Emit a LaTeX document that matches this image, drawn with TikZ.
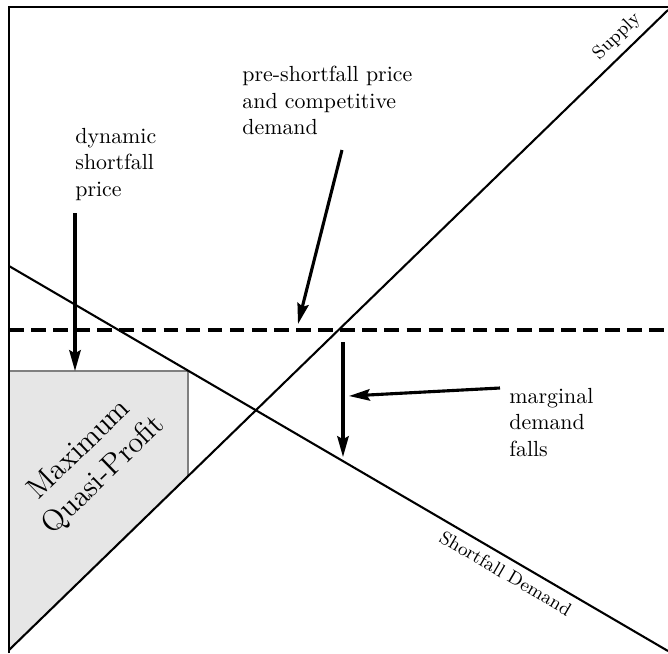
\documentclass[tikz,border=0pt]{standalone}
\usepackage{tikz}
\usetikzlibrary{arrows.meta, positioning, calc}
\definecolor{area1}{RGB}{230,230,230}
\definecolor{edge1}{RGB}{128,128,128}

\begin{document}
\begin{tikzpicture}[
    x=0.48pt, y=-0.48pt,
    axisline/.style={line width=1.1pt, black},
    curveline/.style={line width=1pt, black},
    priceline/.style={line width=1.6pt, black, dash pattern=on 7pt off 3.6pt},
    myarrow/.style={-{Stealth[length=10pt,width=5.5pt,inset=1.5pt]}, line width=1.5pt, black},
    boxline/.style={line width=1pt, draw=edge1},
    textlabel/.style={align=left, anchor=north west, inner sep=0pt,
        font=\fontsize{10.5}{12.6}\selectfont}
]
\useasboundingbox (0,0) rectangle (668,653);

% profit area under the dynamic price
\fill[area1] (9,371) -- (188,371) -- (188,476) -- (9,650) -- cycle;
\draw[boxline] (9,371) -- (188,371) -- (188,476);
\node[rotate=44, align=center, font=\fontsize{14.4}{17}\selectfont] (profit) at (92,463) {Maximum\\Quasi-Profit};

% axes
\draw[axisline] (9,653) -- (9,7) -- (668,7);

% supply and demand
\draw[curveline] (9,650) -- (668,10)
    node[pos=0.94, above, sloped, font=\small] (supply) {Supply};
\draw[curveline] (9,266) -- (668,651)
    node[pos=0.765, below, sloped, font=\small] (demand) {Shortfall Demand};

% pre-shortfall price
\draw[priceline] (9,330) -- (668,330);

% labels
\node[textlabel] (dyn) at (75,128) {dynamic\\shortfall\\price};
\node[textlabel] (pre) at (242,66) {pre-shortfall price\\and competitive\\demand};
\node[textlabel] (marg) at (509,388) {marginal\\demand\\falls};

\coordinate (dynfrom) at (75,213);
\coordinate (dynto) at (75,371);
\coordinate (prefrom) at (342,150);
\coordinate (preto) at (298,324);
\coordinate (fallfrom) at (343,342);
\coordinate (fallto) at (343,457);
\coordinate (margfrom) at (500,388);
\coordinate (margto) at (349,396);

\draw[myarrow] (dynfrom) -- (dynto);
\draw[myarrow] (prefrom) -- (preto);
\draw[myarrow] (fallfrom) -- (fallto);
\draw[myarrow] (margfrom) -- (margto);

\end{tikzpicture}
\end{document}
